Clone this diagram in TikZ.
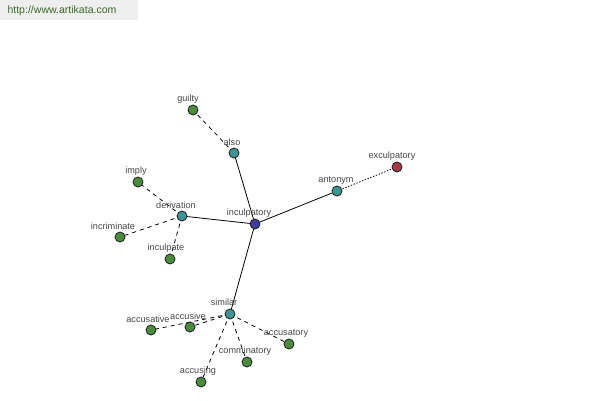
\documentclass[tikz,border=0pt]{standalone}
\usepackage{fontspec}
\setmainfont{Liberation Sans}
\definecolor{cgrn}{HTML}{4A8C3C}
\definecolor{ctl}{HTML}{3E9494}
\definecolor{cblu}{HTML}{3C3F9A}
\definecolor{crd}{HTML}{A33C40}
\definecolor{cwm}{HTML}{3A6A28}
\definecolor{cwmbg}{HTML}{EEEEEE}
\begin{document}
\begin{tikzpicture}[x=0.02cm,y=-0.02cm,
  vtx/.style={circle,draw=black!85,line width=0.5pt,minimum size=0.2cm,inner sep=0pt},
  grn/.style={vtx,fill=cgrn},
  tl/.style={vtx,fill=ctl},
  blu/.style={vtx,fill=cblu},
  rd/.style={vtx,fill=crd},
  lbl/.style={font=\fontsize{5.2pt}{6pt}\selectfont,text=black!72,inner sep=0pt},
  solid edge/.style={draw=black,line width=0.45pt},
  dash edge/.style={draw=black,line width=0.45pt,dash pattern=on 2.3pt off 2.3pt},
  dot edge/.style={draw=black,line width=0.45pt,dash pattern=on 0.8pt off 0.9pt}]
\useasboundingbox (0,0) rectangle (600,400);
\fill[white] (0,0) rectangle (600,400);
\fill[cwmbg] (0,0) rectangle (138,20);
\node[font=\fontsize{6pt}{7pt}\selectfont,text=cwm,inner sep=0pt] (wm) at (62,11) {http://www.artikata.com};
% vertex positions
\coordinate (inc) at (255,224);
\coordinate (also) at (234,153);
\coordinate (guilty) at (193,110);
\coordinate (der) at (182,216);
\coordinate (imply) at (138,182);
\coordinate (incr) at (120,237);
\coordinate (inp) at (170,259);
\coordinate (ant) at (337,191);
\coordinate (exc) at (397,167);
\coordinate (sim) at (230,314);
\coordinate (acc1) at (151,330);
\coordinate (acc2) at (190,327);
\coordinate (acc3) at (289,344);
\coordinate (comm) at (247,362);
\coordinate (acc4) at (201,382);
% edges
\draw[solid edge] (inc) -- (also);
\draw[solid edge] (inc) -- (der);
\draw[solid edge] (inc) -- (ant);
\draw[solid edge] (inc) -- (sim);
\draw[dash edge] (also) -- (guilty);
\draw[dash edge] (der) -- (imply);
\draw[dash edge] (der) -- (incr);
\draw[dash edge] (der) -- (inp);
\draw[dot edge] (ant) -- (exc);
\draw[dash edge] (sim) -- (acc1);
\draw[dash edge] (sim) -- (acc2);
\draw[dash edge] (sim) -- (acc3);
\draw[dash edge] (sim) -- (comm);
\draw[dash edge] (sim) -- (acc4);
% labels
\node[lbl] (l1) at (249,213) {inculpatory};
\node[lbl] (l2) at (232,142) {also};
\node[lbl] (l3) at (188,99) {guilty};
\node[lbl] (l4) at (176,205) {derivation};
\node[lbl] (l5) at (136,171) {imply};
\node[lbl] (l6) at (113,226) {incriminate};
\node[lbl] (l7) at (166,248) {inculpate};
\node[lbl] (l8) at (336,180) {antonym};
\node[lbl] (l9) at (392,156) {exculpatory};
\node[lbl] (l10) at (224,302) {similar};
\node[lbl] (l11) at (148,319) {accusative};
\node[lbl] (l12) at (188,316) {accusive};
\node[lbl] (l13) at (286,333) {accusatory};
\node[lbl] (l14) at (245,351) {comminatory};
\node[lbl] (l15) at (198,371) {accusing};
% vertices
\node[blu] (n-inc) at (inc) {};
\node[tl] (n-also) at (also) {};
\node[tl] (n-der) at (der) {};
\node[tl] (n-ant) at (ant) {};
\node[tl] (n-sim) at (sim) {};
\node[grn] (n-guilty) at (guilty) {};
\node[grn] (n-imply) at (imply) {};
\node[grn] (n-incr) at (incr) {};
\node[grn] (n-inp) at (inp) {};
\node[rd] (n-exc) at (exc) {};
\node[grn] (n-acc1) at (acc1) {};
\node[grn] (n-acc2) at (acc2) {};
\node[grn] (n-acc3) at (acc3) {};
\node[grn] (n-comm) at (comm) {};
\node[grn] (n-acc4) at (acc4) {};
\end{tikzpicture}
\end{document}
